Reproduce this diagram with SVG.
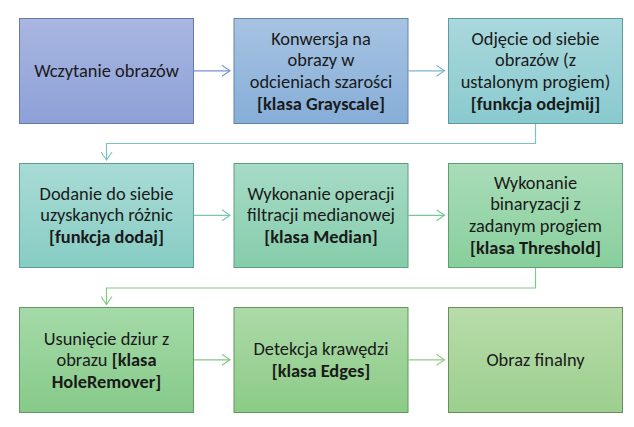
<svg xmlns="http://www.w3.org/2000/svg" width="634" height="427" viewBox="0 0 634 427">
<style>
.t{font-family:Carlito,Lato,"Liberation Sans",sans-serif;font-size:18.4px;fill:#1a1a1a;text-anchor:middle}
.b{font-weight:bold}
.c{fill:none;stroke-width:1.2}
</style>
<defs>
<linearGradient id="g1" x1="0" y1="0" x2="0" y2="1"><stop offset="0" stop-color="#a9b6e0"/><stop offset="1" stop-color="#8ca1d8"/></linearGradient>
<linearGradient id="g2" x1="0" y1="0" x2="0" y2="1"><stop offset="0" stop-color="#a7c3e2"/><stop offset="1" stop-color="#86aed8"/></linearGradient>
<linearGradient id="g3" x1="0" y1="0" x2="0" y2="1"><stop offset="0" stop-color="#a9d8dd"/><stop offset="1" stop-color="#89cacf"/></linearGradient>
<linearGradient id="g4" x1="0" y1="0" x2="0" y2="1"><stop offset="0" stop-color="#a8dbd5"/><stop offset="1" stop-color="#87cdc4"/></linearGradient>
<linearGradient id="g5" x1="0" y1="0" x2="0" y2="1"><stop offset="0" stop-color="#a6dbc6"/><stop offset="1" stop-color="#86cdab"/></linearGradient>
<linearGradient id="g6" x1="0" y1="0" x2="0" y2="1"><stop offset="0" stop-color="#a9dcb8"/><stop offset="1" stop-color="#88cf9d"/></linearGradient>
<linearGradient id="g7" x1="0" y1="0" x2="0" y2="1"><stop offset="0" stop-color="#a5daa8"/><stop offset="1" stop-color="#86ca89"/></linearGradient>
<linearGradient id="g8" x1="0" y1="0" x2="0" y2="1"><stop offset="0" stop-color="#acdaa8"/><stop offset="1" stop-color="#8ccb87"/></linearGradient>
<linearGradient id="g9" x1="0" y1="0" x2="0" y2="1"><stop offset="0" stop-color="#b8dcaa"/><stop offset="1" stop-color="#9ccf8e"/></linearGradient>
<marker id="a1" markerWidth="10" markerHeight="12" refX="9" refY="6" orient="auto" markerUnits="userSpaceOnUse"><path d="M1,0.5 L9,6 L1,11.5" fill="none" stroke="#7890cc" stroke-width="1.1"/></marker>
<marker id="a2" markerWidth="10" markerHeight="12" refX="9" refY="6" orient="auto" markerUnits="userSpaceOnUse"><path d="M1,0.5 L9,6 L1,11.5" fill="none" stroke="#7fb2cf" stroke-width="1.1"/></marker>
<marker id="a3" markerWidth="10" markerHeight="12" refX="9" refY="6" orient="auto" markerUnits="userSpaceOnUse"><path d="M1,0.5 L9,6 L1,11.5" fill="none" stroke="#78c3c6" stroke-width="1.1"/></marker>
<marker id="a4" markerWidth="10" markerHeight="12" refX="9" refY="6" orient="auto" markerUnits="userSpaceOnUse"><path d="M1,0.5 L9,6 L1,11.5" fill="none" stroke="#77c6b0" stroke-width="1.1"/></marker>
<marker id="a5" markerWidth="10" markerHeight="12" refX="9" refY="6" orient="auto" markerUnits="userSpaceOnUse"><path d="M1,0.5 L9,6 L1,11.5" fill="none" stroke="#7ac699" stroke-width="1.1"/></marker>
<marker id="a6" markerWidth="10" markerHeight="12" refX="9" refY="6" orient="auto" markerUnits="userSpaceOnUse"><path d="M1,0.5 L9,6 L1,11.5" fill="none" stroke="#83c784" stroke-width="1.1"/></marker>
<marker id="a7" markerWidth="10" markerHeight="12" refX="9" refY="6" orient="auto" markerUnits="userSpaceOnUse"><path d="M1,0.5 L9,6 L1,11.5" fill="none" stroke="#85c480" stroke-width="1.1"/></marker>
<marker id="a8" markerWidth="10" markerHeight="12" refX="9" refY="6" orient="auto" markerUnits="userSpaceOnUse"><path d="M1,0.5 L9,6 L1,11.5" fill="none" stroke="#94c986" stroke-width="1.1"/></marker>
</defs>
<rect width="634" height="427" fill="#ffffff"/>
<g id="connectors">
<path class="c" d="M193.5,70.8 H230" stroke="#7890cc" marker-end="url(#a1)"/>
<path class="c" d="M408.5,70.8 H444.5" stroke="#7fb2cf" marker-end="url(#a2)"/>
<path class="c" d="M535.5,123.5 V143.5 H106.5 V160" stroke="#78c3c6" marker-end="url(#a3)"/>
<path class="c" d="M193.5,215.3 H230" stroke="#77c6b0" marker-end="url(#a4)"/>
<path class="c" d="M408.5,215.3 H444.5" stroke="#7ac699" marker-end="url(#a5)"/>
<path class="c" d="M535.5,267.5 V288 H106.5 V304.5" stroke="#83c784" marker-end="url(#a6)"/>
<path class="c" d="M193.5,359.8 H230" stroke="#85c480" marker-end="url(#a7)"/>
<path class="c" d="M408.5,359.8 H444.5" stroke="#94c986" marker-end="url(#a8)"/>
</g>
<g id="n1"><rect x="19.5" y="18.5" width="174" height="105" fill="url(#g1)" stroke="#6a7aa8"/>
<text class="t" x="106.5" y="77">Wczytanie obrazów</text></g>
<g id="n2"><rect x="234" y="18.5" width="174" height="105" fill="url(#g2)" stroke="#6583a8"/>
<text class="t" x="321" y="44.5">Konwersja na</text>
<text class="t" x="321" y="66.2">obrazy w</text>
<text class="t" x="321" y="87.9">odcieniach szarości</text>
<text class="t b" x="321" y="109.6">[klasa Grayscale]</text></g>
<g id="n3"><rect x="448.5" y="18.5" width="174" height="105" fill="url(#g3)" stroke="#5f9aa0"/>
<text class="t" x="535.5" y="44.5">Odjęcie od siebie</text>
<text class="t" x="535.5" y="66.2">obrazów (z</text>
<text class="t" x="535.5" y="87.9">ustalonym progiem)</text>
<text class="t b" x="535.5" y="109.6">[funkcja odejmij]</text></g>
<g id="n4"><rect x="19.5" y="163.5" width="174" height="104" fill="url(#g4)" stroke="#5e9e96"/>
<text class="t" x="106.5" y="199.5">Dodanie do siebie</text>
<text class="t" x="106.5" y="221.2">uzyskanych różnic</text>
<text class="t b" x="106.5" y="242.9">[funkcja dodaj]</text></g>
<g id="n5"><rect x="234" y="163.5" width="174" height="104" fill="url(#g5)" stroke="#5e9e80"/>
<text class="t" x="321" y="199.5">Wykonanie operacji</text>
<text class="t" x="321" y="221.2">filtracji medianowej</text>
<text class="t b" x="321" y="242.9">[klasa Median]</text></g>
<g id="n6"><rect x="448.5" y="163.5" width="174" height="104" fill="url(#g6)" stroke="#5e9e72"/>
<text class="t" x="535.5" y="188.5">Wykonanie</text>
<text class="t" x="535.5" y="210.2">binaryzacji z</text>
<text class="t" x="535.5" y="231.9">zadanym progiem</text>
<text class="t b" x="535.5" y="253.6">[klasa Threshold]</text></g>
<g id="n7"><rect x="19.5" y="307.5" width="174" height="105" fill="url(#g7)" stroke="#5e9a61"/>
<text class="t" x="106.5" y="344.5">Usunięcie dziur z</text>
<text class="t" x="106.5" y="366.2">obrazu <tspan class="b">[klasa</tspan></text>
<text class="t b" x="106.5" y="387.9">HoleRemover]</text></g>
<g id="n8"><rect x="234" y="307.5" width="174" height="105" fill="url(#g8)" stroke="#5f975b"/>
<text class="t" x="321" y="355.2">Detekcja krawędzi</text>
<text class="t b" x="321" y="376.9">[klasa Edges]</text></g>
<g id="n9"><rect x="448.5" y="307.5" width="174" height="105" fill="url(#g9)" stroke="#6a8f5c"/>
<text class="t" x="535.5" y="366">Obraz finalny</text></g>
</svg>
